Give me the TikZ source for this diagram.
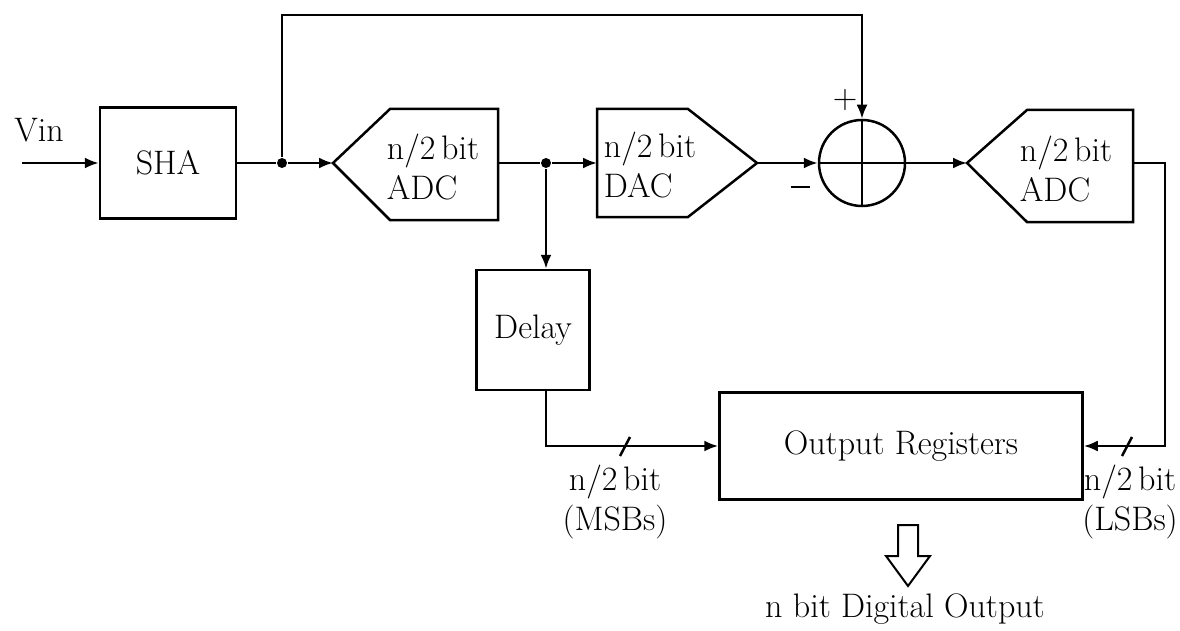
\documentclass[tikz,border=0pt]{standalone}
\usetikzlibrary{arrows.meta}
\begin{document}
\begin{tikzpicture}[x=1pt,y=-1pt,
  line width=2.5pt,
  >={Latex[length=14pt,width=11pt]},
  txt/.style={font=\fontsize{34}{40}\selectfont, inner sep=0pt},
  lbl/.style={txt, align=left},
  blk/.style={draw, txt, align=center},
  dot/.style={circle, fill, inner sep=0pt, minimum size=10pt}]
\useasboundingbox (0,0) rectangle (1180,631);
% blocks
\node[blk, minimum width=136pt, minimum height=111pt] (sha) at (168,163) {SHA};
\node[blk, minimum width=113pt, minimum height=120pt] (delay) at (533,330) {Delay};
\node[blk, minimum width=363pt, minimum height=107pt] (out) at (901,446) {Output Registers};
% ADC1
\coordinate (adc1in) at (333,163);
\draw (adc1in) -- (390,109) -- (498,109) -- (498,220) -- (390,220) -- cycle;
\node[lbl] (adc1) at (433,167) {n/2\,bit\\ADC};
\coordinate (adc1out) at (498,163);
% DAC
\coordinate (dacin) at (597,163);
\coordinate (dacout) at (757,163);
\draw (597,109) -- (688,109) -- (dacout) -- (688,217) -- (597,217) -- cycle;
\node[lbl] (dac) at (650,165) {n/2\,bit\\DAC};
% sum
\node[draw, circle, minimum size=86pt, inner sep=0pt] (sum) at (862,163) {};
\draw (sum.north) -- (sum.south) (sum.west) -- (sum.east);
\node[txt] (plus) at (845,100) {+};
\node[txt] (minus) at (800,187) {\rule{19pt}{2.4pt}};
% ADC2
\coordinate (adc2in) at (967,163);
\draw (adc2in) -- (1027,110) -- (1133,110) -- (1133,222) -- (1027,222) -- cycle;
\node[lbl] (adc2) at (1066,169) {n/2\,bit\\ADC};
\coordinate (adc2out) at (1133,163);
% junctions
\node[dot] (j1) at (282,163) {};
\node[dot] (j2) at (546,163) {};
% Vin
\coordinate (vin) at (22,163);
\node[txt] (vinl) at (39,130) {Vin};
% connectors
\draw[->] (vin) -- (sha.west);
\draw (sha.east) -- (j1);
\draw[->] (j1) -- (adc1in);
\draw[->] (j1) |- (862,15) -- (sum.north);
\draw (adc1out) -- (j2);
\draw[->] (j2) -- (dacin);
\draw[->] (j2) -- (delay.north -| j2);
\draw[->] (dacout) -- (sum.west);
\draw[->] (sum.east) -- (adc2in);
\draw[->] (adc2out) -- (1165,163) |- (out.east);
\draw[->] (delay.south -| j2) |- (out.west);
% slashes
\draw (620,456) -- (630,437);
\draw (1122,456) -- (1132,437);
% bus labels
\node[txt, align=center] (msb) at (615,502) {n/2\,bit\\(MSBs)};
\node[txt, align=center] (lsb) at (1130,502) {n/2\,bit\\(LSBs)};
% output arrow
\draw[line width=2pt] (898,525) -- (918,525) -- (918,556) -- (930,556) -- (908,586) -- (886,556) -- (898,556) -- cycle;
\node[txt] (nout) at (905,609) {n bit Digital Output};
\end{tikzpicture}
\end{document}
